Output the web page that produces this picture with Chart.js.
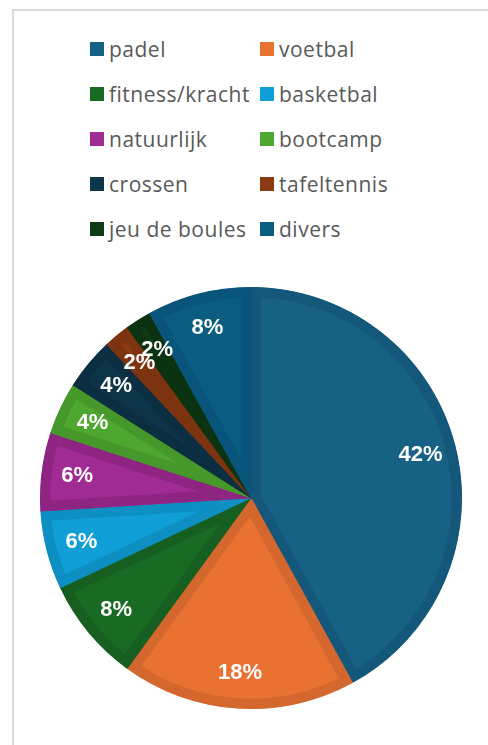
<!DOCTYPE html>
<html>
<head>
<meta charset="utf-8">
<script src="https://cdn.jsdelivr.net/npm/chart.js@4"></script>
<style>
  body { margin: 0; width: 488px; height: 745px; background: #fff; overflow: hidden; position: relative; }
  .frame { position: absolute; left: 12px; top: 9px; width: 600px; height: 900px; border: 2px solid #d9d9d9; box-sizing: border-box; }
  .legend { position: absolute; left: 90px; top: 26px; display: grid; grid-template-columns: 170px 170px; grid-auto-rows: 45px; font-family: "Open Sans", sans-serif; font-size: 21px; letter-spacing: 0.5px; color: #595959; }
  .legend .item { display: flex; align-items: center; height: 45px; white-space: nowrap; }
  .legend .box { width: 14px; height: 14px; margin-right: 5px; flex: none; }
  .pie { position: absolute; left: 40px; top: 287px; width: 422px; height: 422px; }
</style>
</head>
<body>
<div class="frame"></div>
<div class="legend" id="legend"></div>
<div class="pie"><canvas id="chart"></canvas></div>
<script>
// ---- data ----
const categories = ['padel', 'voetbal', 'fitness/kracht', 'basketbal', 'natuurlijk', 'bootcamp', 'crossen', 'tafeltennis', 'jeu de boules', 'divers'];
const shares = [42, 18, 8, 6, 6, 4, 4, 2, 2, 8];
const fillColors = ['#176184', '#e97132', '#196b24', '#0f9ed5', '#a02b93', '#4ea72e', '#0d3549', '#8b3a12', '#0e3b15', '#0a5d80'];
const edgeColors = ['#13587a', '#d4672e', '#165f20', '#0d8fc2', '#8e2583', '#46982a', '#0b2f41', '#7c3410', '#0b3312', '#09547a'];

// legend (2 columns, row by row)
const legend = document.getElementById('legend');
categories.forEach((name, i) => {
  const item = document.createElement('div');
  item.className = 'item';
  item.innerHTML = '<span class="box" style="background:' + fillColors[i] + '"></span>' + name;
  legend.appendChild(item);
});

// percent labels inside the slices
const sliceLabels = {
  id: 'sliceLabels',
  afterDatasetsDraw(chart) {
    const ctx = chart.ctx;
    const meta = chart.getDatasetMeta(0);
    ctx.save();
    ctx.font = 'bold 22px "Liberation Sans", Arial, sans-serif';
    ctx.fillStyle = '#ffffff';
    ctx.textAlign = 'center';
    ctx.textBaseline = 'middle';
    meta.data.forEach((arc, i) => {
      const p = arc.getProps(['x', 'y', 'startAngle', 'endAngle', 'outerRadius'], true);
      const mid = (p.startAngle + p.endAngle) / 2;
      const r = p.outerRadius * 0.83;
      ctx.fillText(shares[i] + '%', p.x + Math.cos(mid) * r, p.y + Math.sin(mid) * r);
    });
    ctx.restore();
  }
};

new Chart(document.getElementById('chart'), {
  type: 'pie',
  data: {
    labels: categories,
    datasets: [{
      data: shares,
      backgroundColor: fillColors,
      borderColor: edgeColors,
      borderWidth: 10,
      borderAlign: 'inner'
    }]
  },
  options: {
    responsive: true,
    maintainAspectRatio: false,
    animation: false,
    layout: { padding: 0 },
    plugins: {
      legend: { display: false },
      tooltip: { enabled: false }
    }
  },
  plugins: [sliceLabels]
});
</script>
</body>
</html>
